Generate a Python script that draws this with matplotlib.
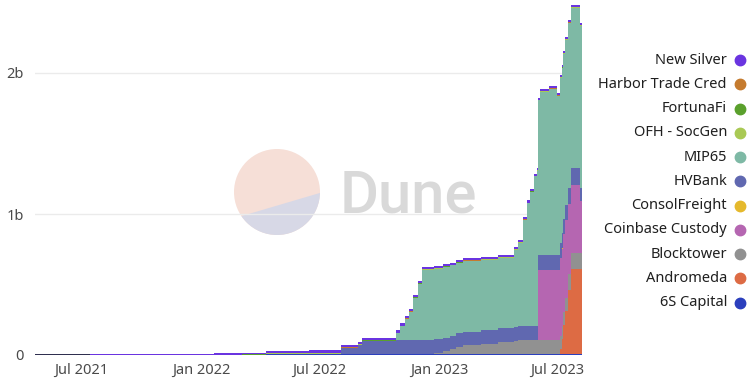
import matplotlib
matplotlib.use('Agg')
import matplotlib.pyplot as plt
import numpy as np
import pandas as pd
from matplotlib.patches import Circle, Polygon
from matplotlib.lines import Line2D

# ---------------- data (values in billions, step changes) ----------------
dates = ['2021-04-21', '2021-05-20', '2021-07-15', '2021-09-15', '2021-11-20',
         '2022-01-20', '2022-03-05', '2022-04-10', '2022-06-15', '2022-08-04',
         '2022-08-30', '2022-09-05', '2022-10-26', '2022-11-02', '2022-11-09',
         '2022-11-15', '2022-11-22', '2022-11-30', '2022-12-06', '2022-12-24',
         '2023-01-07', '2023-01-17', '2023-01-27', '2023-02-06', '2023-03-06',
         '2023-04-01', '2023-04-26', '2023-05-02', '2023-05-09', '2023-05-16',
         '2023-05-21', '2023-05-27', '2023-05-31', '2023-06-01', '2023-06-05',
         '2023-06-18', '2023-07-01', '2023-07-05', '2023-07-08', '2023-07-10',
         '2023-07-13', '2023-07-17', '2023-07-22', '2023-08-05', '2023-08-08']

six_s_capital = [0, 0, 0, 0, 0, 0, .002, .008, .008, .008,
                 .008, .008, .008, .008, .008, .008, .008, .008, .008, .010,
                 .010, .010, .010, .010, .010, .010, .010, .010, .010, .010,
                 .010, .010, .010, .010, .010, .010, .010, .010, .010, .010,
                 .010, .010, .010, .010, .010]
andromeda = [0] * 37 + [.03, .10, .20, .30, .45, .60, .60, .60]
blocktower = [0] * 19 + [.006, .018, .030, .047, .060, .070, .080, .087, .095, .095,
                         .095, .095, .095, .095, .095, .095, .095, .095, .095, .095,
                         .095, .095, .113, .113, .113, .113]
coinbase_custody = [0] * 33 + [.50, .50, .50, .50, .55, .55, .55, .55, .50, .48, .37, .37]
consolfreight = [0, 0, 0, 0, 0] + [.001] * 40
hvbank = [0] * 9 + [.040, .065, .090] + [.095] * 13 + [.10] * 12 + [.11] * 5 + [.12, .09, .09]
mip65 = [0] * 12 + [.05, .10, .15, .20, .30, .40] + [.50] * 8 + \
        [.55, .59, .75, .87, .95, 1.06, 1.10, 1.10, 1.16, 1.18, 1.13,
         1.17, 1.17, 1.17, 1.17, 1.17, 1.14, 1.15, 1.15]
ofh_socgen = [0] * 7 + [.003] * 38
fortunafi = [0] * 6 + [.001] * 39
harbor_trade = [0] * 7 + [.001] * 38
new_silver = [0, .002, .004, .006, .008, .010, .012, .016, .018, .018,
              .016, .016, .016, .016, .016, .016, .016, .016, .016, .015,
              .015, .015, .015, .015, .015, .015, .015, .015, .015, .015,
              .015, .015, .015, .015, .015, .015, .015, .015, .015, .015,
              .015, .015, .015, .015, .015]

names = ['6S Capital', 'Andromeda', 'Blocktower', 'Coinbase Custody', 'ConsolFreight',
         'HVBank', 'MIP65', 'OFH - SocGen', 'FortunaFi', 'Harbor Trade Cred', 'New Silver']
values = [six_s_capital, andromeda, blocktower, coinbase_custody, consolfreight,
          hvbank, mip65, ofh_socgen, fortunafi, harbor_trade, new_silver]
colors = ['#2b3fbd', '#dd6b44', '#919191', '#b566b1', '#e5b92c',
          '#6068b0', '#7eb9a5', '#a9c954', '#5aa02c', '#c57b2e', '#6a34e0']

y_ticks = [0, 1, 2]
y_tick_labels = ['0', '1b', '2b']
x_ticks = ['2021-07-01', '2022-01-01', '2022-07-01', '2023-01-01', '2023-07-01']
x_tick_labels = ['Jul 2021', 'Jan 2022', 'Jul 2022', 'Jan 2023', 'Jul 2023']

# ---------------- figure ----------------
W, H = 754, 386
fig = plt.figure(figsize=(W / 100, H / 100), dpi=100)
FONT = ['Noto Sans', 'DejaVu Sans']
plt.rcParams['font.family'] = FONT

ax = fig.add_axes([35 / W, 1 - 355 / H, (582 - 35) / W, (355 - 2.5) / H])
x = pd.to_datetime(dates)
ax.set_xlim(x[0], x[-1])
ax.set_ylim(0, 2.5)

for gy in (1, 2):
    ax.axhline(gy, color='#ebebeb', lw=1, zorder=0)
ax.axhline(0, color='#16163a', lw=2.0, zorder=0.5)

cum = np.cumsum(np.array(values, dtype=float), axis=0)
for i in range(len(names) - 1, -1, -1):
    ax.fill_between(x, 0, cum[i], step='post', color=colors[i], linewidth=0,
                    zorder=2 + (len(names) - i) * 0.01)

for s in ax.spines.values():
    s.set_visible(False)
ax.set_yticks(y_ticks)
ax.set_yticklabels(y_tick_labels)
ax.set_xticks(pd.to_datetime(x_ticks))
ax.set_xticklabels(x_tick_labels)
ax.tick_params(axis='y', length=0, pad=8, labelsize=10.5, labelcolor='#4a4a4a')
ax.tick_params(axis='x', length=0, pad=6, labelsize=10.5, labelcolor='#4a4a4a')

# ---------------- watermark ----------------
lax = fig.add_axes([234 / W, 1 - 235 / H, 86 / W, 86 / H], zorder=-1)
lax.set_xlim(-1, 1)
lax.set_ylim(-1, 1)
lax.axis('off')
circ = Circle((0, 0), 1, color='#f6dfd7', lw=0)
lax.add_patch(circ)
low = Polygon([(-1.3, -0.70), (1.3, 0.067), (1.3, -1.3), (-1.3, -1.3)], closed=True,
              color='#d7d8e6', lw=0)
lax.add_patch(low)
low.set_clip_path(circ)
ax.set_zorder(1)
ax.patch.set_alpha(0)
fig.text(340 / W, 1 - 213 / H, 'Dune', ha='left', va='baseline', fontsize=43,
         color='#d9d9d9', family=['Roboto', 'DejaVu Sans'], fontweight='medium', zorder=0)

# ---------------- legend ----------------
legend_order = list(range(len(names) - 1, -1, -1))
for k, i in enumerate(legend_order):
    yy = 1 - (60 + k * 24.27) / H
    fig.text(727 / W, yy, names[i], ha='right', va='center', fontsize=10.5, color='#1f1f1f')
    fig.add_artist(Line2D([740 / W], [yy], marker='o', markersize=7.5, color=colors[i],
                          linestyle='none', transform=fig.transFigure))

fig.savefig('out.png', dpi=100)
